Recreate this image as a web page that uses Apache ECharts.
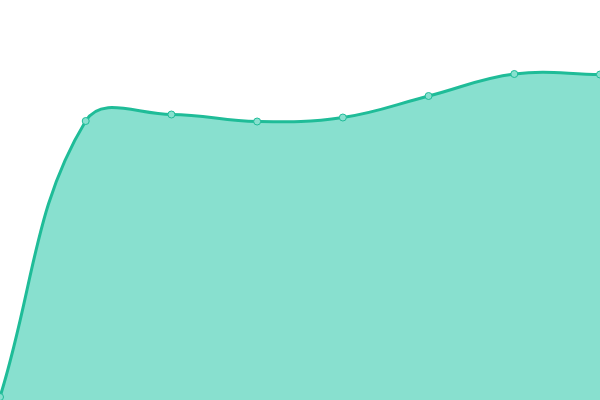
<!DOCTYPE html>
<html><head><meta charset="utf-8">
<script src="https://cdn.jsdelivr.net/npm/echarts@6/dist/echarts.min.js"></script>
<style>html,body{margin:0;padding:0;}#c{width:600px;height:400px;}</style>
</head><body><div id="c"></div>
<script>
const categories = ['1','2','3','4','5','6','7','8'];
const values = [3, 279, 285.5, 278.5, 282.5, 304, 326, 325.5];
const TENSION = 0.4;
const LINE_COLOR = '#1fbc98';
const FILL_COLOR = '#88e0cf';

function renderCurve(params, api) {
  if (params.dataIndex !== 0) return null;
  const pts = values.map((v, i) => api.coord([i, v]));
  const baseY = api.coord([0, 0])[1];
  const n = pts.length;
  const cps = pts.map((cur, i) => {
    const prev = pts[i - 1] || cur;
    const next = pts[i + 1] || cur;
    const d01 = Math.hypot(cur[0] - prev[0], cur[1] - prev[1]);
    const d12 = Math.hypot(next[0] - cur[0], next[1] - cur[1]);
    const s = d01 + d12;
    const fa = s ? TENSION * d01 / s : 0;
    const fb = s ? TENSION * d12 / s : 0;
    const vx = next[0] - prev[0], vy = next[1] - prev[1];
    return {
      prev: [cur[0] - fa * vx, cur[1] - fa * vy],
      next: [cur[0] + fb * vx, cur[1] + fb * vy]
    };
  });
  let d = 'M' + pts[0][0] + ' ' + pts[0][1];
  for (let i = 1; i < n; i++) {
    const a = cps[i - 1].next, b = cps[i].prev, p = pts[i];
    d += ' C' + a[0] + ' ' + a[1] + ' ' + b[0] + ' ' + b[1] + ' ' + p[0] + ' ' + p[1];
  }
  const area = d + ' L' + pts[n - 1][0] + ' ' + baseY + ' L' + pts[0][0] + ' ' + baseY + ' Z';
  return {
    type: 'group',
    children: [
      { type: 'path', shape: { pathData: area }, style: { fill: FILL_COLOR, stroke: null } },
      { type: 'path', shape: { pathData: d }, style: { fill: null, stroke: LINE_COLOR, lineWidth: 3 } }
    ]
  };
}

const chart = echarts.init(document.getElementById('c'));
chart.setOption({
  animation: false,
  grid: {left: 0, right: 0, top: 0, bottom: 0},
  xAxis: {type: 'category', data: categories, boundaryGap: false, show: false},
  yAxis: {type: 'value', min: 0, max: 400, show: false},
  series: [{
    type: 'custom',
    data: values.map((v, i) => [i, v]),
    encode: {x: 0, y: 1},
    renderItem: renderCurve,
    z: 1
  }, {
    type: 'line',
    data: values,
    symbol: 'circle',
    symbolSize: 7,
    itemStyle: {color: FILL_COLOR, borderColor: LINE_COLOR, borderWidth: 1},
    lineStyle: {opacity: 0},
    z: 2
  }]
});
</script></body></html>
